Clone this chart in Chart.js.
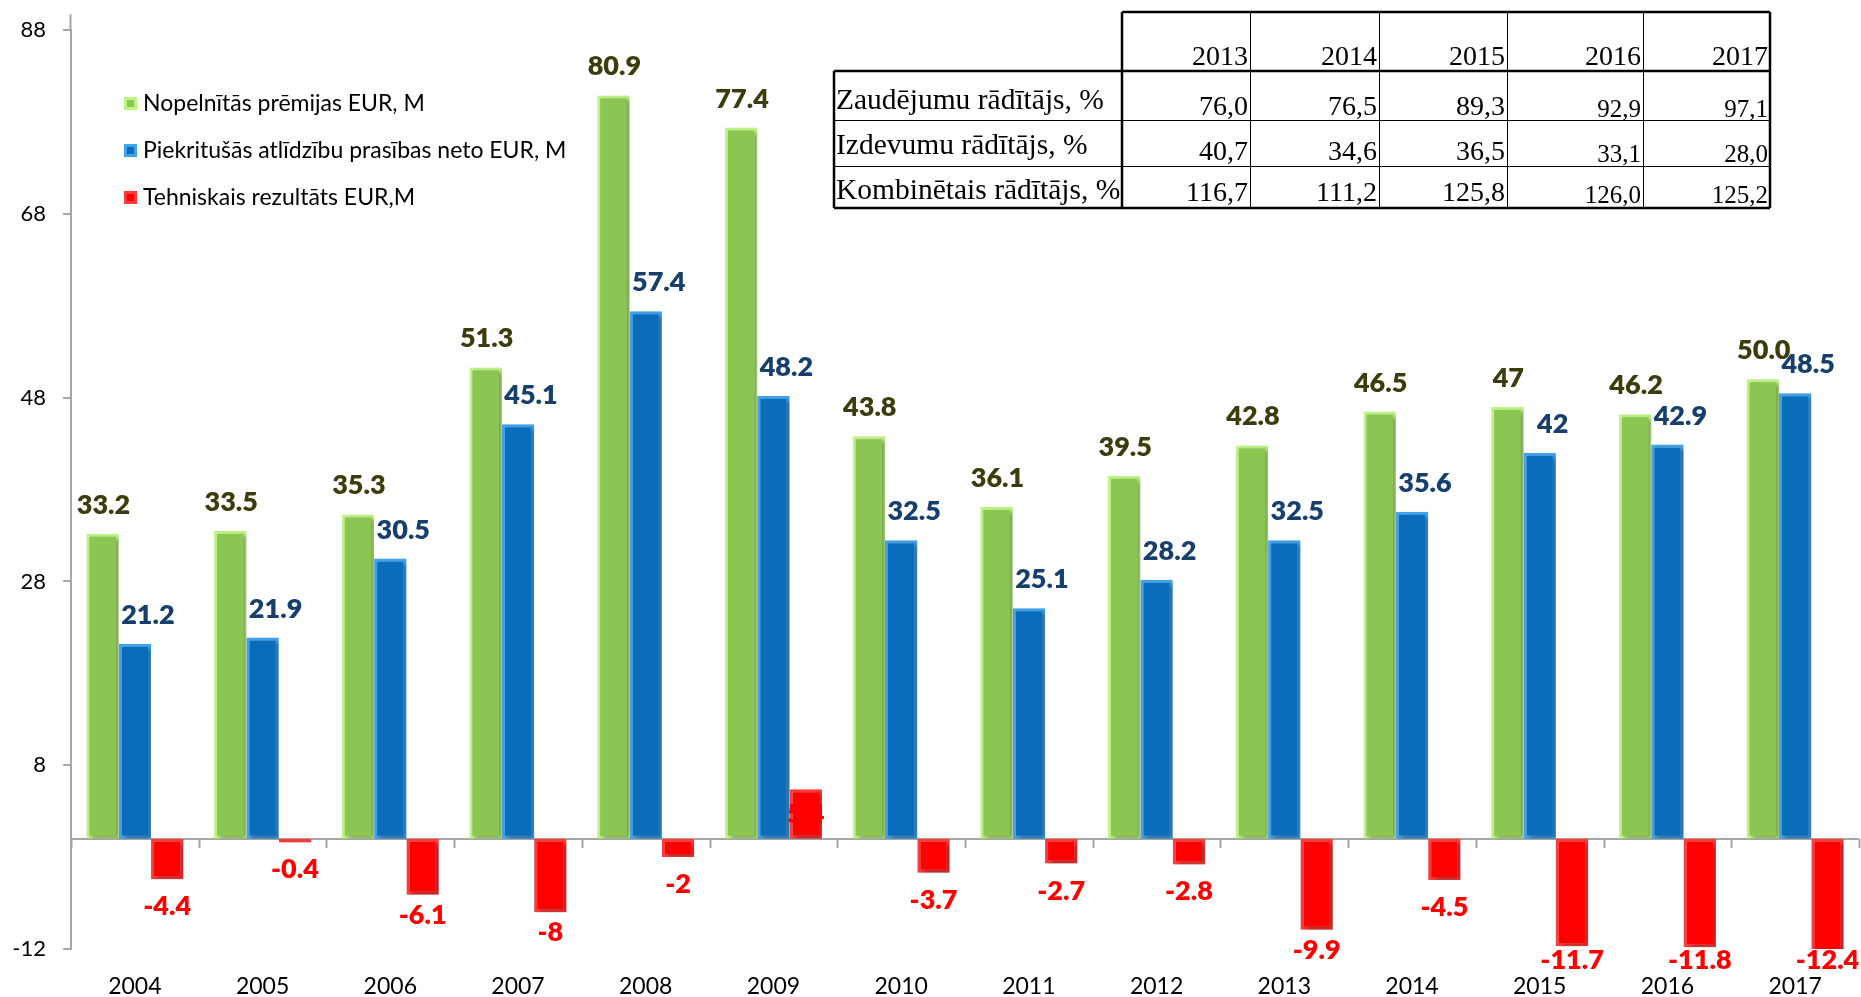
<!DOCTYPE html>
<html>
<head>
<meta charset="utf-8">
<script src="https://cdn.jsdelivr.net/npm/chart.js@4.4.1/dist/chart.umd.min.js"></script>
<style>
  html, body { margin: 0; padding: 0; background: #fff; }
  #wrap { position: relative; width: 1861px; height: 997px; }
</style>
</head>
<body>
<div id="wrap"><canvas id="c" width="1861" height="997"></canvas></div>
<script>
// ---------------- DATA ----------------
const categories = ['2004','2005','2006','2007','2008','2009','2010','2011','2012','2013','2014','2015','2016','2017'];
const premiums = [33.2, 33.5, 35.3, 51.3, 80.9, 77.4, 43.8, 36.1, 39.5, 42.8, 46.5, 47, 46.2, 50.0];
const claims   = [21.2, 21.9, 30.5, 45.1, 57.4, 48.2, 32.5, 25.1, 28.2, 32.5, 35.6, 42, 42.9, 48.5];
const result   = [-4.4, -0.4, -6.1, -8, -2, 5.4, -3.7, -2.7, -2.8, -9.9, -4.5, -11.7, -11.8, -12.4];
const premiumLabels = ['33.2','33.5','35.3','51.3','80.9','77.4','43.8','36.1','39.5','42.8','46.5','47','46.2','50.0'];
const claimLabels   = ['21.2','21.9','30.5','45.1','57.4','48.2','32.5','25.1','28.2','32.5','35.6','42','42.9','48.5'];
const resultLabels  = ['-4.4','-0.4','-6.1','-8','-2','5.4','-3.7','-2.7','-2.8','-9.9','-4.5','-11.7','-11.8','-12.4'];
const seriesNames = ['Nopelnītās prēmijas EUR, M', 'Piekritušās atlīdzību prasības neto EUR, M', 'Tehniskais rezultāts EUR,M'];
const yMin = -12, yMax = 88, yStep = 20;

const tableYears = ['2013','2014','2015','2016','2017'];
const tableRowNames = ['Zaudējumu rādītājs, %', 'Izdevumu rādītājs, %', 'Kombinētais rādītājs, %'];
const lossRatio     = ['76,0','76,5','89,3','92,9','97,1'];
const expenseRatio  = ['40,7','34,6','36,5','33,1','28,0'];
const combinedRatio = ['116,7','111,2','125,8','126,0','125,2'];

// ---------------- STYLE ----------------
const fills   = ['#8CC652', '#0A6DBB', '#FF0000'];
const edges   = ['#BDF583', '#3FA3EE', '#FF3A3A'];
const lblCol  = ['#3C3C0C', '#163F6E', '#FF0000'];
const LBL_FONT = '800 27px Lato';

const decor = {
  id: 'decor',
  beforeDatasetsDraw(chart) {
    const {ctx, chartArea} = chart;
    const y = chart.scales.y, x = chart.scales.x;
    const y0 = Math.round(y.getPixelForValue(0));
    ctx.save();
    ctx.strokeStyle = '#A6A6A6';
    ctx.lineWidth = 2;
    ctx.beginPath();
    ctx.moveTo(chartArea.left, y0);
    ctx.lineTo(chartArea.right, y0);
    const half = (x.getPixelForValue(1) - x.getPixelForValue(0)) / 2;
    for (let i = 0; i <= categories.length; i++) {
      const px = Math.round(x.getPixelForValue(i) - half) + 0.5;
      ctx.moveTo(px, y0);
      ctx.lineTo(px, y0 + 9);
    }
    ctx.moveTo(chartArea.left - 0.5, chartArea.top - 16);
    ctx.lineTo(chartArea.left - 0.5, chartArea.top);
    ctx.stroke();
    ctx.restore();

    ctx.save();
    ctx.shadowColor = 'rgba(0,0,0,0.35)';
    ctx.shadowBlur = 4;
    ctx.shadowOffsetX = 3;
    ctx.shadowOffsetY = 2;
  },
  afterDatasetsDraw(chart) {
    const ctx = chart.ctx;
    ctx.restore();
    ctx.save();
    ctx.font = LBL_FONT;
    ctx.textAlign = 'center';
    const labelSets = [premiumLabels, claimLabels, resultLabels];
    const values = [premiums, claims, result];
    for (let d = 0; d < 3; d++) {
      const meta = chart.getDatasetMeta(d);
      ctx.fillStyle = lblCol[d];
      meta.data.forEach((bar, j) => {
        const v = values[d][j];
        const t = labelSets[d][j];
        if (d === 0) {
          ctx.textBaseline = 'alphabetic';
          ctx.fillText(t, bar.x + 1, bar.y - 20);
        } else if (d === 1) {
          ctx.textBaseline = 'alphabetic';
          ctx.fillText(t, bar.x + 13, bar.y - 20);
        } else {
          if (v < 0) {
            ctx.textBaseline = 'alphabetic';
            const off = Math.abs(v) < 5 ? 36 : 29;
            ctx.fillText(t, bar.x, Math.min(bar.y + off, 969));
          } else {
            ctx.textBaseline = 'middle';
            ctx.fillText(t, bar.x, (bar.y + bar.base) / 2);
          }
        }
      });
    }
    ctx.restore();
  },
  afterDraw(chart) {
    const ctx = chart.ctx;
    // ---- legend ----
    ctx.save();
    const legY = [103, 150, 197];
    for (let i = 0; i < 3; i++) {
      const sx = 124, sy = legY[i] - 6;
      ctx.fillStyle = edges[i];
      ctx.fillRect(sx, sy, 13, 13);
      ctx.fillStyle = fills[i];
      ctx.fillRect(sx + 3, sy + 3, 7, 7);
      ctx.fillStyle = '#000';
      ctx.font = '23px Lato';
      ctx.textAlign = 'left';
      ctx.textBaseline = 'middle';
      ctx.fillText(seriesNames[i], 143, legY[i] + 1);
    }
    ctx.restore();

    // ---- table ----
    ctx.save();
    const colX = [1122, 1250, 1379, 1507, 1643, 1770];
    const left = 834;
    const rowY = [12, 71, 120, 166, 208];
    ctx.fillStyle = '#fff';
    ctx.fillRect(colX[0], rowY[0], colX[5] - colX[0], rowY[1] - rowY[0]);
    ctx.fillRect(left, rowY[1], colX[5] - left, rowY[4] - rowY[1]);
    ctx.strokeStyle = '#000';
    ctx.lineWidth = 1;
    ctx.beginPath();
    for (let i = 1; i < 5; i++) {
      ctx.moveTo(colX[i] + 0.5, rowY[0]);
      ctx.lineTo(colX[i] + 0.5, rowY[4]);
    }
    ctx.moveTo(left, rowY[2] + 0.5); ctx.lineTo(colX[5], rowY[2] + 0.5);
    ctx.moveTo(left, rowY[3] + 0.5); ctx.lineTo(colX[5], rowY[3] + 0.5);
    ctx.stroke();
    ctx.lineWidth = 2.5;
    ctx.beginPath();
    ctx.moveTo(colX[0], rowY[1]); ctx.lineTo(colX[0], rowY[4]);
    ctx.moveTo(colX[0], rowY[0]); ctx.lineTo(colX[5], rowY[0]);
    ctx.moveTo(colX[0], rowY[0]); ctx.lineTo(colX[0], rowY[1]);
    ctx.moveTo(colX[5], rowY[0]); ctx.lineTo(colX[5], rowY[4]);
    ctx.moveTo(left, rowY[1]); ctx.lineTo(colX[5], rowY[1]);
    ctx.moveTo(left, rowY[1]); ctx.lineTo(left, rowY[4]);
    ctx.moveTo(left, rowY[4]); ctx.lineTo(colX[5], rowY[4]);
    ctx.stroke();

    ctx.fillStyle = '#000';
    ctx.textBaseline = 'alphabetic';
    ctx.textAlign = 'right';
    ctx.font = '28px "Liberation Serif"';
    tableYears.forEach((yr, i) => ctx.fillText(yr, colX[i + 1] - 2, 65));
    const rows = [lossRatio, expenseRatio, combinedRatio];
    const valBase = [115, 160, 201];
    const nameBase = [109, 154, 199];
    rows.forEach((r, ri) => {
      r.forEach((v, ci) => {
        ctx.font = (ci >= 3 ? '25px' : '28px') + ' "Liberation Serif"';
        ctx.textAlign = 'right';
        ctx.fillText(v, colX[ci + 1] - 2, valBase[ri] + (ci >= 3 ? 2 : 0));
      });
      ctx.font = '29.5px "Liberation Serif"';
      ctx.textAlign = 'left';
      ctx.fillText(tableRowNames[ri], left + 2, nameBase[ri]);
    });
    ctx.restore();
  }
};

Chart.defaults.font.family = 'Lato';
new Chart(document.getElementById('c'), {
  type: 'bar',
  data: {
    labels: categories,
    datasets: [premiums, claims, result].map((data, i) => ({
      label: seriesNames[i],
      data: data,
      backgroundColor: fills[i],
      borderColor: edges[i],
      borderWidth: 3,
      borderSkipped: false,
      categoryPercentage: 0.76,
      barPercentage: 1.0
    }))
  },
  options: {
    responsive: false,
    animation: false,
    devicePixelRatio: 1,
    layout: { padding: { top: 29, right: 2, left: 0, bottom: 0 } },
    plugins: { legend: { display: false }, tooltip: { enabled: false } },
    scales: {
      x: {
        grid: { display: false, drawTicks: false },
        border: { display: false },
        ticks: { font: { size: 23 }, color: '#000', padding: 24, maxRotation: 0 },
        afterFit(s) { s.height = 48; }
      },
      y: {
        min: yMin, max: yMax,
        grid: { drawOnChartArea: false, drawTicks: true, tickLength: 8, color: '#A6A6A6', lineWidth: 2 },
        border: { color: '#A6A6A6', width: 2 },
        ticks: { stepSize: yStep, font: { size: 22 }, color: '#000', padding: 17 },
        afterFit(s) { s.width = 71; }
      }
    }
  },
  plugins: [decor]
});
</script>
</body>
</html>
